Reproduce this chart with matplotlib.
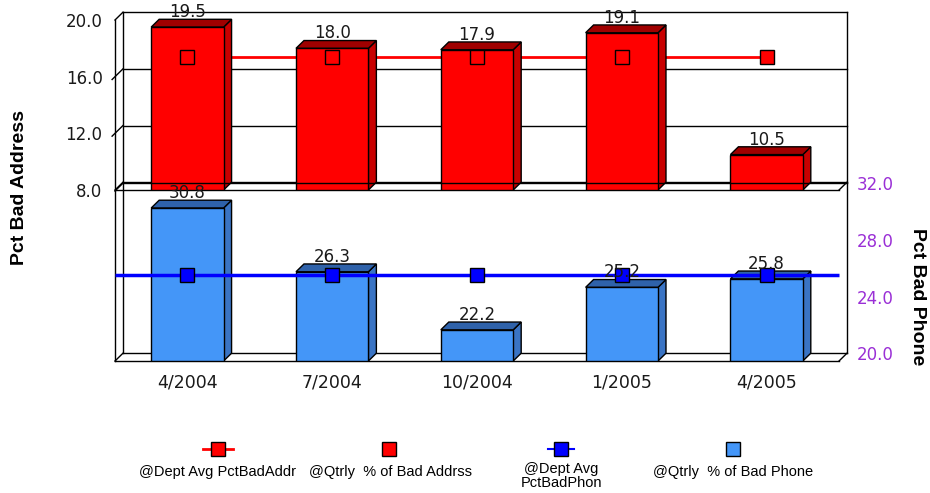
import matplotlib.pyplot as plt
from matplotlib.patches import Polygon
import numpy as np

# data
quarters = ['4/2004', '7/2004', '10/2004', '1/2005', '4/2005']
bad_addr = [19.5, 18.0, 17.9, 19.1, 10.5]
bad_phone = [30.8, 26.3, 22.2, 25.2, 25.8]
avg_addr = [17.4, 17.4, 17.4, 17.4, 17.4]
avg_phone = [26.1, 26.1, 26.1, 26.1, 26.1]

addr_ticks = [8, 12, 16, 20]
phone_ticks = [20, 24, 28, 32]

x = np.arange(len(quarters))
w = 0.5      # bar width
dx = 0.055   # fake 3d depth (x)
dy = 0.55    # fake 3d depth (y)

fig = plt.figure(figsize=(9.3, 4.93), dpi=100)
ax_top = fig.add_axes([115/930, 1-190/493, 732/930, 178.5/493])
ax_bot = fig.add_axes([115/930, 1-361/493, 732/930, 178.5/493])


def frame(ax, lo, hi, grid):
    x0, x1 = -0.5, len(quarters) - 0.5
    k = dict(color='black', lw=1, zorder=1, clip_on=False)
    ax.plot([x0, x0], [lo, hi], **k)
    ax.plot([x0+dx, x0+dx], [lo+dy, hi+dy], **k)
    ax.plot([x0, x0+dx], [hi, hi+dy], **k)
    ax.plot([x1+dx, x1+dx], [lo+dy, hi+dy], **k)
    ax.plot([x0+dx, x1+dx], [hi+dy, hi+dy], **k)
    # floor
    ax.plot([x0, x1], [lo, lo], **k)
    ax.plot([x0+dx, x1+dx], [lo+dy, lo+dy], **k)
    ax.plot([x0, x0+dx], [lo, lo+dy], **k)
    ax.plot([x1, x1+dx], [lo, lo+dy], **k)
    for g in grid:
        ax.plot([x0+dx, x1+dx], [g+dy, g+dy], **k)
        ax.plot([x0-0.02, x0+dx], [g-0.2, g+dy], **k)


def bars3d(ax, vals, base, face, side, top):
    ax.bar(x, [v - base for v in vals], width=w, bottom=base, color=face,
           edgecolor='black', lw=1, zorder=3)
    for xi, v in zip(x, vals):
        r = xi + w/2
        l = xi - w/2
        ax.add_patch(Polygon([(r, base), (r+dx, base+dy), (r+dx, v+dy), (r, v)],
                             closed=True, fc=side, ec='black', lw=1, zorder=2.9))
        ax.add_patch(Polygon([(l, v), (l+dx, v+dy), (r+dx, v+dy), (r, v)],
                             closed=True, fc=top, ec='black', lw=1, zorder=2.9))
        ax.text(xi, v + dy + 0.5, f'{v:.1f}', ha='center', va='center',
                fontsize=12, color='#1a1a1a', zorder=7)


for ax in (ax_top, ax_bot):
    ax.set_facecolor('none')
    for s in ax.spines.values():
        s.set_visible(False)
    ax.set_xlim(-0.5, len(quarters) - 0.5 + dx)

# top panel: bad address
ax_top.set_ylim(8, 20.6)
frame(ax_top, 8, 20, [12, 16])
bars3d(ax_top, bad_addr, 8, '#ff0000', '#c80000', '#a00000')
ax_top.plot(x, avg_addr, color='#ff0000', lw=2, zorder=1)
ax_top.plot(x, avg_addr, ls='none', marker='s', ms=10, mfc='#ff0000',
            mec='black', mew=1, zorder=5)
ax_top.set_xticks([])
ax_top.set_yticks(addr_ticks, [f'{t:.1f}' for t in addr_ticks])
ax_top.tick_params(axis='y', length=0, pad=9, labelsize=12, colors='#1a1a1a')

# bottom panel: bad phone
ax_bot.set_ylim(20, 32.6)
frame(ax_bot, 20, 32, [])
bars3d(ax_bot, bad_phone, 20, '#4496f8', '#3a74c4', '#2f62aa')
ax_bot.hlines(avg_phone[0], -0.5, len(quarters) - 0.5, color='#0000ff', lw=2.5, zorder=4)
ax_bot.plot(x, avg_phone, ls='none', marker='s', ms=10, mfc='#0000ff',
            mec='black', mew=1, zorder=5)
ax_bot.set_xticks(x, quarters)
ax_bot.tick_params(axis='x', length=0, pad=9, labelsize=12.5, colors='#1a1a1a')
ax_bot.yaxis.tick_right()
ax_bot.set_yticks([t + dy for t in phone_ticks], [f'{t:.1f}' for t in phone_ticks])
ax_bot.tick_params(axis='y', length=0, pad=7, labelsize=12, colors='#9a2fd6')

fig.text(20/930, 1-188/493, 'Pct Bad Address', rotation=90, ha='center', va='center',
         fontsize=14, fontweight='bold', family='Liberation Sans')
fig.text(917/930, 1-297/493, 'Pct Bad Phone', rotation=270, ha='center', va='center',
         fontsize=14, fontweight='bold', family='Liberation Sans')

# legend (symbols above text)
leg = fig.add_axes([0, 0, 1, 1], zorder=-1)
leg.set_xlim(0, 930)
leg.set_ylim(493, 0)
leg.axis('off')
leg.plot([203, 233], [449, 449], color='#ff0000', lw=2)
leg.plot([218], [449], marker='s', ms=10, mfc='#ff0000', mec='black')
leg.plot([389], [449], marker='s', ms=10, mfc='#ff0000', mec='black')
leg.plot([548, 574], [449, 449], color='#0000ff', lw=1.5)
leg.plot([561], [449], marker='s', ms=10, mfc='#0000ff', mec='black')
leg.plot([733], [449], marker='s', ms=10, mfc='#4496f8', mec='black')
lk = dict(ha='center', va='center', fontsize=10.5, family='Liberation Sans')
leg.text(217, 472, '@Dept Avg PctBadAddr', **lk)
leg.text(390, 472, '@Qtrly  % of Bad Addrss', **lk)
leg.text(561, 476, '@Dept Avg\nPctBadPhon', linespacing=0.95, **lk)
leg.text(733, 472, '@Qtrly  % of Bad Phone', **lk)

fig.savefig('out.png', dpi=100)
